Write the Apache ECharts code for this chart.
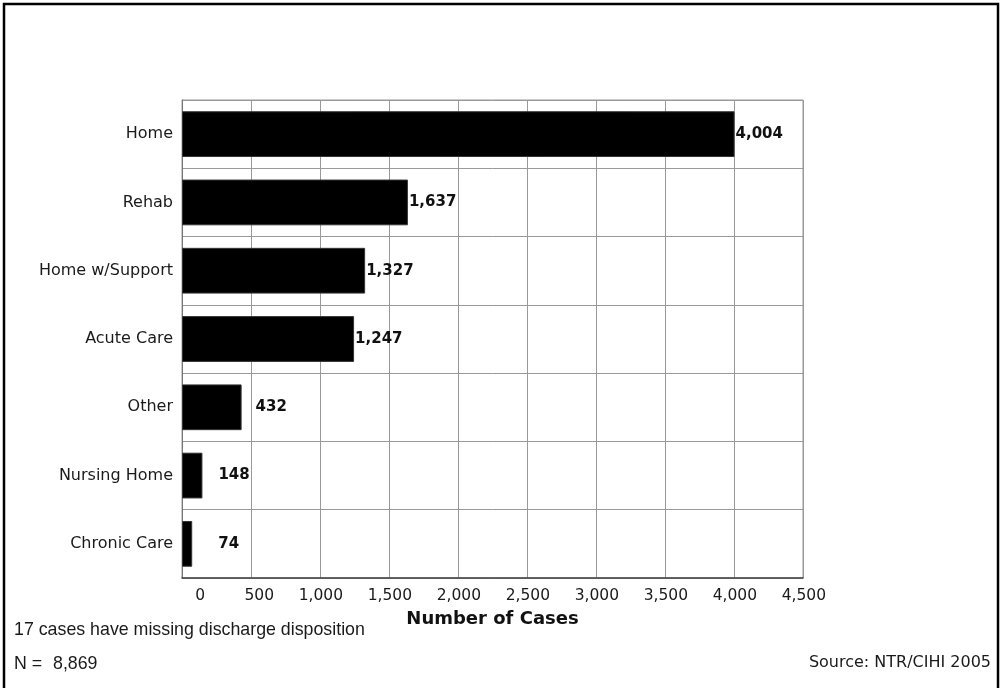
<!DOCTYPE html>
<html>
<head>
<meta charset="utf-8">
<script src="https://cdn.jsdelivr.net/npm/echarts@6/dist/echarts.min.js"></script>
<style>
html,body{margin:0;padding:0;background:#fff;}
#chart{width:1002px;height:688px;}
</style>
</head>
<body>
<div id="chart"></div>
<script>
const categories = ['Home', 'Rehab', 'Home w/Support', 'Acute Care', 'Other', 'Nursing Home', 'Chronic Care'];
const cases = [4004, 1637, 1327, 1247, 432, 148, 74];
const labelGaps = [1, 1, 1, 1, 14, 16, 26];
const xTicks = { min: 0, max: 4500, interval: 500 };
const footnote = '17 cases have missing discharge disposition';
const totalN = '8,869';
const source = 'Source: NTR/CIHI 2005';

const fmt = v => Number(v).toLocaleString('en-US');
const chart = echarts.init(document.getElementById('chart'), null, { renderer: 'canvas' });

chart.setOption({
  backgroundColor: '#fff',
  animation: false,
  grid: { left: 182, right: 199, top: 100, bottom: 110, containLabel: false,
          show: true, borderColor: '#999', borderWidth: 1 },
  xAxis: {
    type: 'value', min: xTicks.min, max: xTicks.max, interval: xTicks.interval,
    name: 'Number of Cases', nameLocation: 'middle', nameGap: 32,
    nameTextStyle: { fontFamily: 'DejaVu Sans', fontWeight: 'bold', fontSize: 18, color: '#111' },
    axisLine: { show: true, lineStyle: { color: '#444', width: 1.5 } },
    axisTick: { show: false },
    splitLine: { show: true, lineStyle: { color: '#999', width: 1 } },
    axisLabel: {
      margin: 10, align: 'center',
      formatter: v => '{a|' + fmt(v) + '}',
      rich: { a: { width: 46, align: 'right', fontFamily: 'DejaVu Sans', fontSize: 15.5, color: '#1a1a1a' } }
    }
  },
  yAxis: {
    type: 'category', data: categories, inverse: true,
    axisLine: { show: true, lineStyle: { color: '#777', width: 1 } },
    axisTick: { show: false },
    splitLine: { show: true, interval: 0, lineStyle: { color: '#999', width: 1 } },
    axisLabel: { margin: 9, fontFamily: 'DejaVu Sans', fontSize: 16, color: '#1a1a1a', interval: 0 }
  },
  series: [{
    type: 'bar',
    barCategoryGap: '33%',
    itemStyle: { color: '#000', borderColor: '#333', borderWidth: 1 },
    data: cases.map((v, i) => ({
      value: v,
      label: { show: true, position: 'right', distance: labelGaps[i] }
    })),
    label: {
      show: true, position: 'right', formatter: p => fmt(p.value),
      fontFamily: 'DejaVu Sans', fontWeight: 'bold', fontSize: 15, color: '#111'
    }
  }],
  graphic: [
    { type: 'rect', shape: { x: 4, y: 4, width: 994, height: 700 }, style: { fill: 'none', stroke: '#000', lineWidth: 2.5 }, silent: true },
    { type: 'text', left: 14, top: 621, style: { text: footnote, font: '17.8px "Liberation Sans", Arial, sans-serif', fill: '#1a1a1a' } },
    { type: 'text', left: 14, top: 655, style: { text: 'N =', font: '17.8px "Liberation Sans", Arial, sans-serif', fill: '#1a1a1a' } },
    { type: 'text', left: 53, top: 655, style: { text: totalN, font: '17.8px "Liberation Sans", Arial, sans-serif', fill: '#1a1a1a' } },
    { type: 'text', right: 11, top: 655, style: { text: source, font: '16px "DejaVu Sans", sans-serif', fill: '#1a1a1a' } }
  ]
});
</script>
</body>
</html>
